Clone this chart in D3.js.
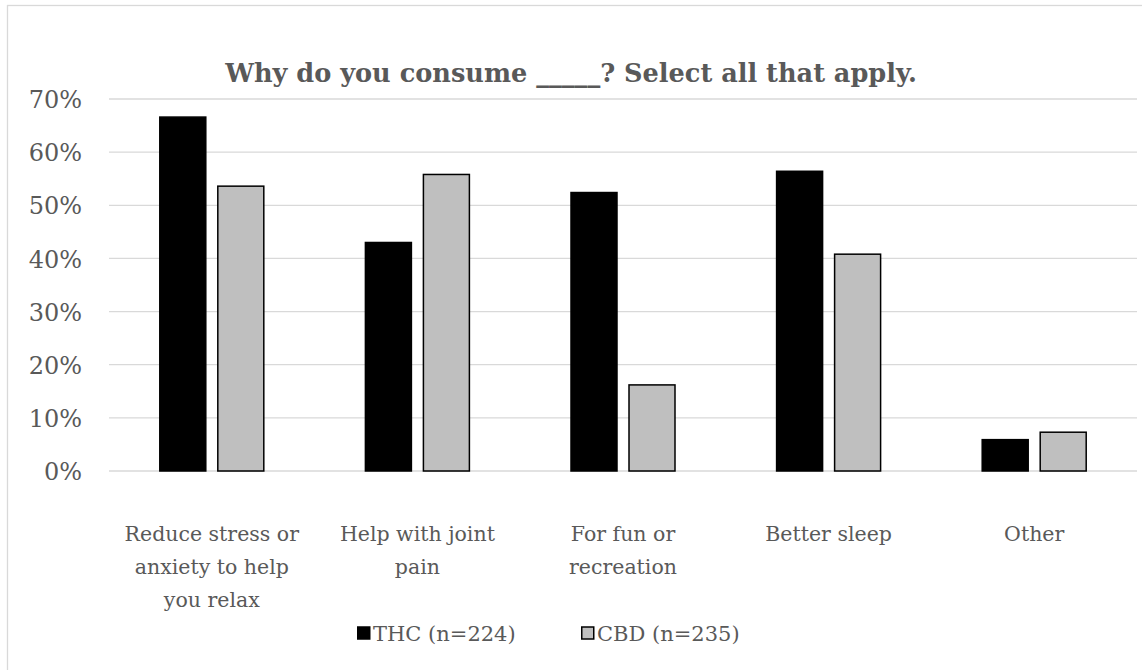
<!DOCTYPE html>
<html>
<head>
<meta charset="utf-8">
<script src="https://cdn.jsdelivr.net/npm/d3@7"></script>
<style>
  html, body { margin: 0; padding: 0; background: #fff; }
  svg { display: block; }
  text { font-family: "DejaVu Serif", "Liberation Serif", serif; fill: #595959; }
</style>
</head>
<body>
<svg id="chart" width="1142" height="670"></svg>
<script>
// Survey responses: share of respondents choosing each reason
const categories = ["Reduce stress or anxiety to help you relax", "Help with joint pain", "For fun or recreation", "Better sleep", "Other"];
const categoryLines = [
  ["Reduce stress or", "anxiety to help", "you relax"],
  ["Help with joint", "pain"],
  ["For fun or", "recreation"],
  ["Better sleep"],
  ["Other"]
];
const seriesNames = ["THC (n=224)", "CBD (n=235)"];
const thcValues = [0.666, 0.430, 0.524, 0.564, 0.059];
const cbdValues = [0.536, 0.558, 0.162, 0.408, 0.073];
const yTicks = [0, 0.1, 0.2, 0.3, 0.4, 0.5, 0.6, 0.7];
const titleText = "Why do you consume _____? Select all that apply.";

const seriesValues = [thcValues, cbdValues];
const seriesFill = ["#000000", "#bfbfbf"];
const seriesStroke = ["#000000", "#000000"];

const svg = d3.select("#chart");

// Outer chart frame
svg.append("rect")
  .attr("x", 7.5).attr("y", 5.5)
  .attr("width", 1142).attr("height", 670)
  .attr("fill", "#fff").attr("stroke", "#d9d9d9").attr("stroke-width", 1.3);

const plot = { left: 109, right: 1137, top: 99, bottom: 471 };

const y = d3.scaleLinear().domain([0, 0.7]).range([plot.bottom, plot.top]);
const x = d3.scaleBand().domain(categories).range([plot.left, plot.right]).padding(0);
const bw = x.bandwidth();
const xs = d3.scaleBand().domain(seriesNames)
  .range([bw / 2 - 52, bw / 2 + 52]).paddingInner(0.207).paddingOuter(0);

// Horizontal gridlines
svg.append("g").selectAll("line").data(yTicks).join("line")
  .attr("x1", plot.left).attr("x2", plot.right)
  .attr("y1", d => y(d)).attr("y2", d => y(d))
  .attr("stroke", "#d9d9d9").attr("stroke-width", 1.3);

// Y axis labels
const yAxis = d3.axisLeft(y).tickValues(yTicks).tickFormat(d3.format(".0%")).tickSize(0).tickPadding(0);
const yg = svg.append("g").attr("transform", `translate(82,0)`).call(yAxis);
yg.select(".domain").remove();
yg.attr("font-family", null).attr("font-size", null);
yg.selectAll("text")
  .style("font-size", "24px")
  .attr("dy", "0.36em")
  .attr("fill", "#595959");

// Bars
const groups = svg.append("g").selectAll("g").data(categories).join("g")
  .attr("transform", d => `translate(${x(d)},0)`);

groups.selectAll("rect")
  .data((c, i) => seriesNames.map((s, k) => ({ s, k, v: seriesValues[k][i] })))
  .join("rect")
  .attr("x", d => xs(d.s))
  .attr("width", xs.bandwidth())
  .attr("y", d => y(d.v))
  .attr("height", d => y(0) - y(d.v))
  .attr("fill", d => seriesFill[d.k])
  .attr("stroke", d => seriesStroke[d.k])
  .attr("stroke-width", 1.5);

// Category labels
const xl = svg.append("g").selectAll("text").data(categories).join("text")
  .attr("x", d => x(d) + bw / 2)
  .attr("y", 541)
  .attr("text-anchor", "middle")
  .style("font-size", "20.5px");
xl.selectAll("tspan")
  .data((d, i) => categoryLines[i])
  .join("tspan")
  .attr("x", function () { return d3.select(this.parentNode).attr("x"); })
  .attr("dy", (d, j) => j === 0 ? 0 : 33)
  .text(d => d);

// Title
svg.append("text")
  .attr("x", 571).attr("y", 82)
  .attr("text-anchor", "middle")
  .style("font-size", "25.6px").style("font-weight", "bold")
  .text(titleText);

// Legend
const legendX = [357, 581];
const lg = svg.append("g").selectAll("g").data(seriesNames).join("g")
  .attr("transform", (d, i) => `translate(${legendX[i]},633)`);
lg.append("rect")
  .attr("x", 0.75).attr("y", -6)
  .attr("width", 12).attr("height", 12)
  .attr("fill", (d, i) => seriesFill[i])
  .attr("stroke", (d, i) => seriesStroke[i]).attr("stroke-width", 1.5);
lg.append("text")
  .attr("x", 16).attr("y", 0).attr("dy", "0.36em")
  .style("font-size", "21px")
  .text(d => d);
</script>
</body>
</html>
